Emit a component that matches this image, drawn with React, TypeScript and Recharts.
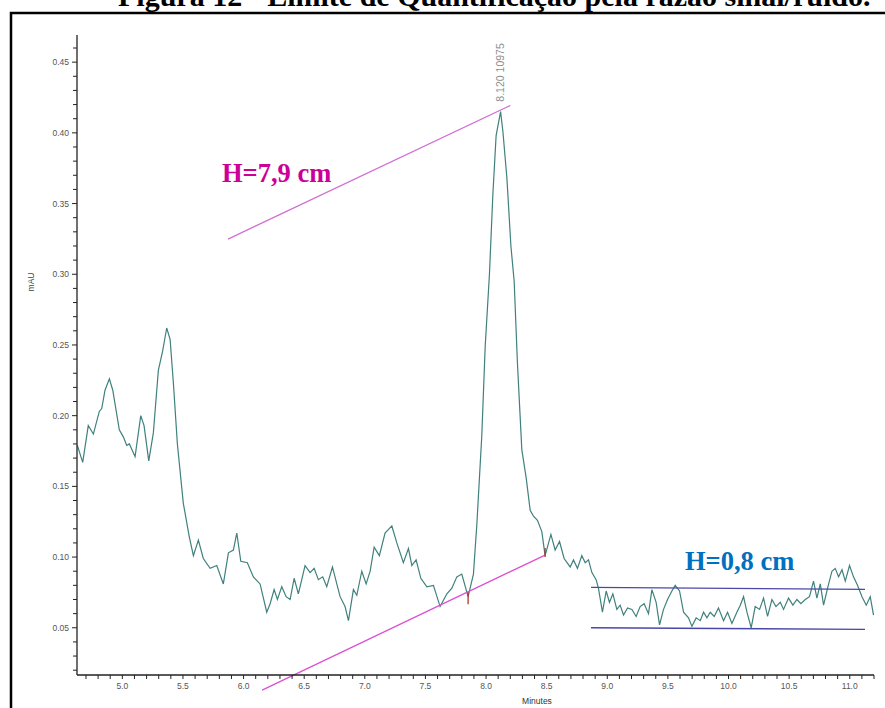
import React from "react";
import { LineChart, Line, XAxis, YAxis, ReferenceLine, ReferenceDot } from "recharts";

// retention time (min) and absorbance (mAU) of the trace
const minutes = [
  4.629, 4.673, 4.719, 4.761, 4.81, 4.83, 4.857, 4.893, 4.921, 4.975,
  5.008, 5.036, 5.058, 5.105, 5.152, 5.179, 5.218, 5.256, 5.297, 5.333,
  5.366, 5.394, 5.421, 5.454, 5.503, 5.553, 5.586, 5.627, 5.668, 5.724,
  5.779, 5.833, 5.875, 5.916, 5.944, 5.977, 6.031, 6.081, 6.136, 6.191,
  6.219, 6.252, 6.279, 6.315, 6.351, 6.384, 6.417, 6.452, 6.507, 6.549,
  6.582, 6.617, 6.653, 6.686, 6.733, 6.769, 6.796, 6.837, 6.865, 6.906,
  6.934, 6.975, 7.011, 7.044, 7.077, 7.12, 7.167, 7.223, 7.264, 7.318,
  7.36, 7.388, 7.423, 7.462, 7.512, 7.566, 7.621, 7.677, 7.718, 7.759,
  7.8, 7.852, 7.896, 7.924, 7.965, 7.993, 8.028, 8.056, 8.083, 8.12,
  8.139, 8.172, 8.205, 8.232, 8.259, 8.295, 8.331, 8.364, 8.391, 8.424,
  8.46, 8.487, 8.535, 8.57, 8.606, 8.644, 8.694, 8.721, 8.754, 8.79,
  8.818, 8.845, 8.873, 8.908, 8.927, 8.96, 8.991, 9.018, 9.046, 9.079,
  9.106, 9.134, 9.167, 9.203, 9.238, 9.271, 9.304, 9.34, 9.368, 9.403,
  9.431, 9.464, 9.497, 9.533, 9.56, 9.596, 9.629, 9.67, 9.698, 9.733,
  9.767, 9.794, 9.822, 9.849, 9.882, 9.917, 9.959, 9.992, 10.028, 10.069,
  10.097, 10.124, 10.152, 10.187, 10.22, 10.256, 10.289, 10.322, 10.358, 10.391,
  10.427, 10.454, 10.495, 10.531, 10.564, 10.597, 10.633, 10.668, 10.701, 10.729,
  10.757, 10.784, 10.817, 10.853, 10.88, 10.908, 10.936, 10.963, 10.998, 11.031,
  11.064, 11.101, 11.136, 11.169, 11.196,
];

const mau = [
  0.179, 0.167, 0.193, 0.187, 0.203, 0.205, 0.218, 0.226, 0.218, 0.19,
  0.185, 0.179, 0.18, 0.171, 0.2, 0.193, 0.168, 0.188, 0.232, 0.246,
  0.262, 0.254, 0.223, 0.18, 0.138, 0.114, 0.101, 0.112, 0.099, 0.092,
  0.094, 0.081, 0.103, 0.105, 0.117, 0.097, 0.096, 0.086, 0.081, 0.061,
  0.067, 0.077, 0.07, 0.079, 0.072, 0.07, 0.085, 0.074, 0.094, 0.089,
  0.092, 0.084, 0.086, 0.079, 0.093, 0.081, 0.072, 0.065, 0.055, 0.077,
  0.073, 0.09, 0.081, 0.09, 0.107, 0.101, 0.117, 0.122, 0.11, 0.096,
  0.106, 0.094, 0.098, 0.085, 0.079, 0.08, 0.065, 0.074, 0.078, 0.086,
  0.088, 0.072, 0.088, 0.123, 0.186, 0.249, 0.3, 0.356, 0.398, 0.415,
  0.401, 0.368, 0.32, 0.295, 0.237, 0.176, 0.156, 0.133, 0.129, 0.126,
  0.118, 0.101, 0.116, 0.105, 0.111, 0.099, 0.093, 0.098, 0.092, 0.101,
  0.096, 0.098, 0.089, 0.084, 0.078, 0.061, 0.076, 0.068, 0.074, 0.063,
  0.066, 0.059, 0.064, 0.063, 0.058, 0.065, 0.067, 0.06, 0.077, 0.068,
  0.052, 0.063, 0.07, 0.076, 0.08, 0.076, 0.061, 0.057, 0.051, 0.057,
  0.055, 0.061, 0.057, 0.061, 0.058, 0.064, 0.055, 0.061, 0.053, 0.061,
  0.066, 0.072, 0.061, 0.05, 0.065, 0.063, 0.071, 0.058, 0.07, 0.065,
  0.068, 0.063, 0.071, 0.066, 0.07, 0.067, 0.07, 0.072, 0.083, 0.071,
  0.081, 0.066, 0.078, 0.09, 0.092, 0.086, 0.091, 0.083, 0.094, 0.086,
  0.08, 0.072, 0.066, 0.072, 0.059,
];

const xMajor = [5.0, 5.5, 6.0, 6.5, 7.0, 7.5, 8.0, 8.5, 9.0, 9.5, 10.0, 10.5, 11.0];
const yMajor = [0.05, 0.1, 0.15, 0.2, 0.25, 0.3, 0.35, 0.4, 0.45];

// integrated peak: apex time, height, and the label the software prints above it
const peakTime = 8.12;
const peakHeight = 0.415;
const peakLabel = "8.120 10975";

// hand-drawn measurement lines (min, mAU)
const heightGuide = [{ x: 5.872, y: 0.3249 }, { x: 8.199, y: 0.4193 }];
const peakBaseline = [{ x: 6.153, y: 0.0059 }, { x: 8.487, y: 0.1014 }];
const noiseUpper = [{ x: 8.866, y: 0.0786 }, { x: 11.126, y: 0.0772 }];
const noiseLower = [{ x: 8.866, y: 0.05 }, { x: 11.126, y: 0.0489 }];
const baselineMarks = [
  [{ x: 7.852, y: 0.0667 }, { x: 7.852, y: 0.0752 }],
  [{ x: 8.487, y: 0.1 }, { x: 8.487, y: 0.1064 }],
];

const chartData = minutes.map((t, i) => ({ t, mau: mau[i] }));

// minor ticks every 0.1 min and 0.01 mAU
const xTicks: number[] = [];
for (let i = 47; i <= 112; i++) xTicks.push(i / 10);
const yTicks: number[] = [];
for (let i = 2; i <= 46; i++) yTicks.push(i / 100);

const axisFont = "'Liberation Sans', Arial, sans-serif";
const serif = "'Liberation Serif', 'Times New Roman', serif";
const axisColor = "#222";

const isMajor = (list: number[], v: number) => list.some((m) => Math.abs(m - v) < 1e-6);

function MinuteTick(props: any) {
  const { x, y, payload } = props;
  const v = payload.value;
  return (
    <g>
      <line x1={x} x2={x} y1={y} y2={y + 4} stroke={axisColor} strokeWidth={1} />
      {isMajor(xMajor, v) && (
        <text x={x} y={y + 14} textAnchor="middle" fontSize={8.5} fill="#555" fontFamily={axisFont}>
          {v.toFixed(1)}
        </text>
      )}
    </g>
  );
}

function MauTick(props: any) {
  const { x, y, payload } = props;
  const v = payload.value;
  const major = isMajor(yMajor, v);
  return (
    <g>
      <line x1={x - (major ? 5 : 4)} x2={x} y1={y} y2={y} stroke={axisColor} strokeWidth={1} />
      {major && (
        <text x={x - 8} y={y + 3} textAnchor="end" fontSize={8.5} fill="#555" fontFamily={axisFont}>
          {v.toFixed(2)}
        </text>
      )}
    </g>
  );
}

function PeakLabel(props: any) {
  const { cx, cy } = props;
  return (
    <text
      transform={`translate(${cx + 3.5},${cy - 10}) rotate(-90)`}
      fontSize={10.5}
      fill="#8e8e8e"
      fontFamily={axisFont}
    >
      {peakLabel}
    </text>
  );
}

export default function App() {
  return (
    <div style={{ position: "absolute", left: 0, top: 0, width: 885, height: 708, background: "#fff", overflow: "hidden" }}>
      <svg width={885} height={708} style={{ position: "absolute", left: 0, top: 0 }}>
        <text x={118} y={6} fontSize={30} fontWeight="bold" fontFamily={serif} fill="#000">
          Figura 12 - Limite de Quantificação pela razão sinal/ruído.
        </text>
        <rect x={11} y={13} width={900} height={720} fill="none" stroke="#000" strokeWidth={2.5} />
      </svg>
      <div style={{ position: "absolute", left: 0, top: 0 }}>
        <LineChart width={885} height={708} data={chartData} margin={{ top: 35, right: 11, bottom: 3, left: 7 }}>
          <XAxis
            dataKey="t"
            type="number"
            domain={[4.626, 11.2]}
            allowDataOverflow
            ticks={xTicks}
            interval={0}
            height={30}
            tickLine={false}
            tickSize={0}
            tickMargin={0}
            tick={MinuteTick}
            axisLine={{ stroke: axisColor, strokeWidth: 1.3 }}
          />
          <YAxis
            type="number"
            domain={[0.0166, 0.4692]}
            allowDataOverflow
            ticks={yTicks}
            interval={0}
            width={70}
            tickLine={false}
            tickSize={0}
            tickMargin={0}
            tick={MauTick}
            axisLine={{ stroke: axisColor, strokeWidth: 1.3 }}
          />
          <Line
            dataKey="mau"
            type="linear"
            stroke="#3f817d"
            strokeWidth={1.2}
            dot={false}
            isAnimationActive={false}
          />
          <ReferenceLine segment={heightGuide} stroke="#d06fd4" strokeWidth={1.3} ifOverflow="visible" />
          <ReferenceLine segment={peakBaseline} stroke="#dd4fd2" strokeWidth={1.3} ifOverflow="visible" />
          <ReferenceLine segment={noiseUpper} stroke="#4a48a6" strokeWidth={1.3} ifOverflow="visible" />
          <ReferenceLine segment={noiseLower} stroke="#4a48a6" strokeWidth={1.3} ifOverflow="visible" />
          {baselineMarks.map((seg, i) => (
            <ReferenceLine key={i} segment={seg} stroke="#b3322e" strokeWidth={1.3} ifOverflow="visible" />
          ))}
          <ReferenceDot x={peakTime} y={peakHeight} r={0} ifOverflow="visible" shape={PeakLabel} />
        </LineChart>
      </div>
      <svg width={885} height={708} style={{ position: "absolute", left: 0, top: 0, pointerEvents: "none" }}>
        <text x={222} y={182} fontSize={26.5} fontWeight="bold" fontFamily={serif} fill="#cc0099">
          H=7,9 cm
        </text>
        <text x={685} y={569.5} fontSize={26.5} fontWeight="bold" fontFamily={serif} fill="#0070c0">
          H=0,8 cm
        </text>
        <text
          transform="translate(34,282) rotate(-90)"
          textAnchor="middle"
          fontSize={8.5}
          fill="#444"
          fontFamily={axisFont}
        >
          mAU
        </text>
        <text x={537} y={704} textAnchor="middle" fontSize={8.5} fill="#333" fontFamily={axisFont}>
          Minutes
        </text>
      </svg>
    </div>
  );
}
